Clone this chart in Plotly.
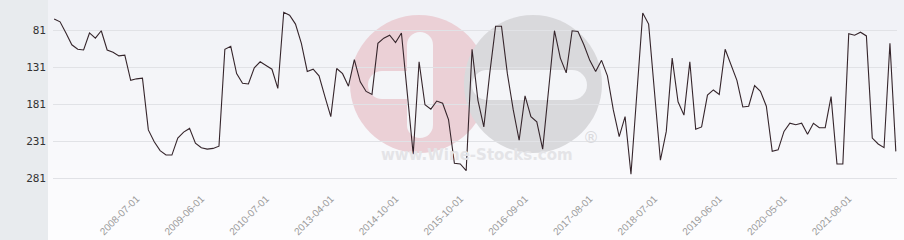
import plotly.graph_objects as go
from datetime import date

# ---------------- data ----------------
rank_values = [66, 70, 85, 101, 107, 108, 85, 92, 82, 108,
               111, 116, 115, 149, 147, 146, 216, 232, 244, 250,
               250, 227, 219, 214, 234, 240, 242, 241, 238, 107,
               103, 140, 153, 154, 132, 124, 129, 134, 160, 57,
               61, 73, 99, 137, 134, 143, 171, 198, 133, 140,
               157, 121, 151, 164, 168, 99, 92, 88, 98, 85,
               167, 249, 124, 182, 188, 177, 180, 202, 261, 262,
               271, 107, 176, 212, 140, 76, 76, 140, 189, 230,
               170, 198, 205, 242, 162, 82, 119, 139, 82, 83,
               101, 122, 137, 122, 143, 189, 225, 198, 276, 167,
               58, 73, 165, 257, 218, 119, 178, 196, 124, 215,
               212, 169, 162, 168, 107, 128, 149, 185, 184, 156,
               164, 184, 245, 243, 218, 207, 209, 207, 222, 207,
               213, 213, 171, 262, 262, 86, 88, 84, 89, 227,
               235, 240, 99, 245]

tick_labels = ["2008-07-01", "2009-06-01", "2010-07-01", "2013-04-01",
               "2014-10-01", "2015-10-01", "2016-09-01", "2017-08-01",
               "2018-07-01", "2019-06-01", "2020-05-01", "2021-08-01"]
tick_label_index = [14, 25, 36, 47, 58, 69, 80, 91, 102, 113, 124, 135]
y_ticks = [81, 131, 181, 231, 281]


def add_months(d, m):
    t = d.year * 12 + (d.month - 1) + m
    return date(t // 12, t % 12 + 1, 1)


def parse(s):
    y, m, _ = s.split("-")
    return date(int(y), int(m), 1)


# categories (monthly observation dates)
n = len(rank_values)
categories = [None] * n
anchors = list(zip(tick_label_index, [parse(s) for s in tick_labels]))
first_i, first_d = anchors[0]
for i in range(first_i + 1):
    categories[i] = add_months(first_d, i - first_i)
for (i0, d0), (i1, d1) in zip(anchors[:-1], anchors[1:]):
    months = (d1.year - d0.year) * 12 + d1.month - d0.month
    for k in range(i1 - i0 + 1):
        categories[i0 + k] = add_months(d0, round(k * months / (i1 - i0)))
last_i, last_d = anchors[-1]
for i in range(last_i, n):
    categories[i] = add_months(last_d, i - last_i)
categories = [c.strftime("%Y-%m-%d") for c in categories]

# ---------------- figure ----------------
W, H = 904, 240
ML, MR, MT, MB = 53, 7, 2, 50
PW, PH = W - ML - MR, H - MT - MB


def px(x):
    return (x - ML) / PW


def py(y):
    return (H - MB - y) / PH


fig = go.Figure()
fig.add_trace(go.Scatter(
    x=categories, y=rank_values, mode="lines",
    line=dict(color="#35252b", width=1.1),
    hoverinfo="x+y", showlegend=False,
))

shapes = []
# left grey panel
shapes.append(dict(type="rect", xref="paper", yref="paper", layer="below",
                   x0=px(0), x1=px(48), y0=py(H), y1=py(0),
                   fillcolor="#e8ebee", line=dict(width=0)))
# background gradient
bands = 24
top_c = (240, 241, 246)
bot_c = (253, 253, 254)
for b in range(bands):
    t = b / (bands - 1)
    c = tuple(round(top_c[j] + (bot_c[j] - top_c[j]) * t) for j in range(3))
    y0 = H * b / bands
    y1 = H * (b + 1) / bands + 0.5
    shapes.append(dict(type="rect", xref="paper", yref="paper", layer="below",
                       x0=px(48), x1=px(W), y0=py(y1), y1=py(y0),
                       fillcolor="rgb(%d,%d,%d)" % c, line=dict(width=0)))


def circle(cx, cy, r, color):
    return dict(type="circle", xref="paper", yref="paper", layer="below",
                x0=px(cx - r), x1=px(cx + r), y0=py(cy + r), y1=py(cy - r),
                fillcolor=color, line=dict(width=0))


def rect(x0, x1, y0, y1, color):
    return dict(type="rect", xref="paper", yref="paper", layer="below",
                x0=px(x0), x1=px(x1), y0=py(y1), y1=py(y0),
                fillcolor=color, line=dict(width=0))


pink = "#ebd0d6"
grey = "#d9d9dc"
cut = "#f4f5f8"
shapes.append(circle(419, 84, 69, pink))
shapes.append(circle(533, 84, 69, grey))
# cut-outs
shapes.append(rect(407, 433, 45, 125, cut))
shapes.append(circle(420, 45, 13, cut))
shapes.append(circle(420, 125, 13, cut))
shapes.append(rect(382, 420, 71, 99, cut))
shapes.append(circle(382, 85, 14, cut))
shapes.append(rect(485, 572, 70, 100, cut))
shapes.append(circle(572, 85, 15, cut))
shapes.append(circle(487, 85, 15, cut))

annotations = [
    dict(text="<b>www.Wine-Stocks.com</b>", xref="paper", yref="paper",
         x=px(477), y=py(166), showarrow=False,
         font=dict(family="DejaVu Sans", size=15, color="#e4e4e7")),
    dict(text="®", xref="paper", yref="paper", x=px(591), y=py(149),
         showarrow=False, font=dict(family="DejaVu Sans", size=16, color="#dadadd")),
]

fig.update_layout(
    width=W, height=H,
    margin=dict(l=ML, r=MR, t=MT, b=MB, pad=0),
    paper_bgcolor="white", plot_bgcolor="rgba(0,0,0,0)",
    shapes=shapes, annotations=annotations,
    xaxis=dict(type="category", range=[-0.2, n - 1 + 0.2],
               tickmode="array",
               tickvals=[categories[i] for i in tick_label_index],
               ticktext=tick_labels, tickangle=-45,
               tickfont=dict(family="Liberation Sans", size=10, color="#9a9a9a"),
               showgrid=False, zeroline=False, showline=False, ticks=""),
    yaxis=dict(range=[81 + (H - MB - 30) * 50 / 37, 81 - (30 - MT) * 50 / 37],
               tickmode="array", tickvals=y_ticks,
               ticktext=[str(v) for v in y_ticks],
               tickfont=dict(family="DejaVu Sans Mono", size=11, color="#333333"),
               ticklabelstandoff=6,
               showgrid=True, gridcolor="#e1e2e6", gridwidth=1,
               zeroline=False, showline=False, ticks=""),
)

fig.write_html("out.html")
